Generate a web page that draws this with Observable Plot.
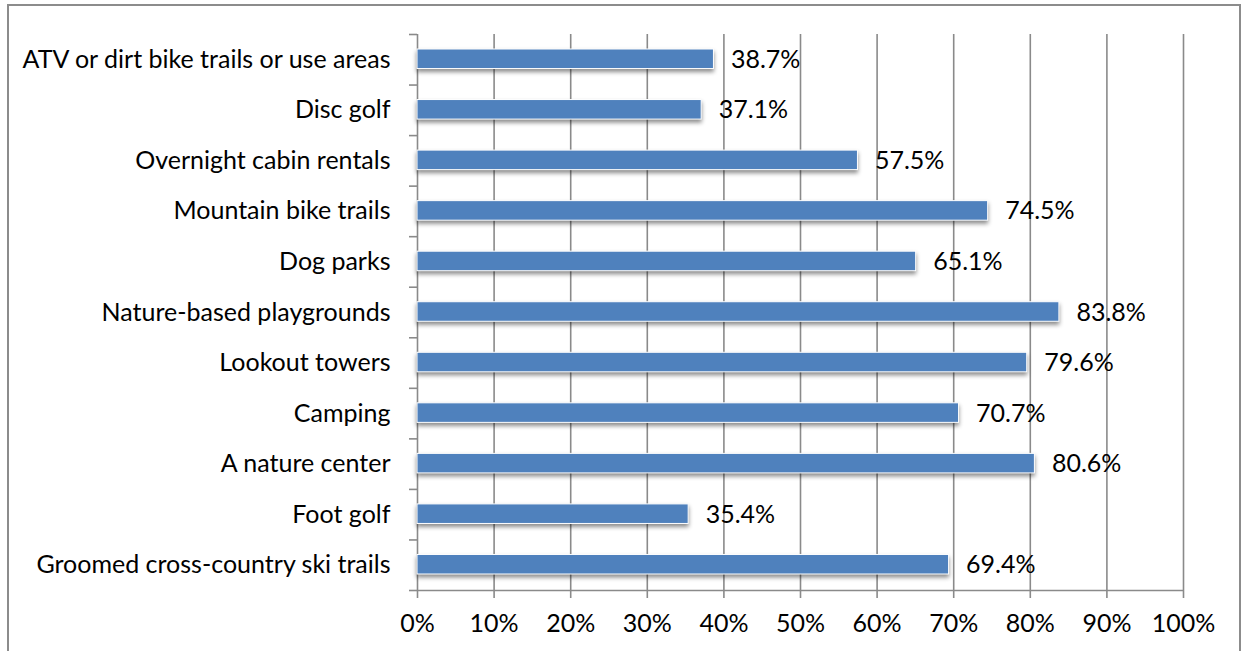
<!DOCTYPE html>
<html>
<head>
<meta charset="utf-8">
<script src="https://cdn.jsdelivr.net/npm/d3@7"></script>
<script src="https://cdn.jsdelivr.net/npm/@observablehq/plot@0.6"></script>
<style>
  html, body { margin: 0; padding: 0; background: #fff; overflow: hidden; }
  #wrap { position: relative; width: 1241px; height: 651px; }
  #frame { position: absolute; left: 7px; top: 4px; width: 1234px; height: 1000px; border: 2px solid #8c8c8c; box-sizing: border-box; }
  #chart { position: absolute; left: 0; top: 0; }
</style>
</head>
<body>
<div id="wrap"><div id="frame"></div><div id="chart"></div></div>
<script>
const categories = [
  "ATV or dirt bike trails or use areas",
  "Disc golf",
  "Overnight cabin rentals",
  "Mountain bike trails",
  "Dog parks",
  "Nature-based playgrounds",
  "Lookout towers",
  "Camping",
  "A nature center",
  "Foot golf",
  "Groomed cross-country ski trails"
];
const values = [38.7, 37.1, 57.5, 74.5, 65.1, 83.8, 79.6, 70.7, 80.6, 35.4, 69.4];
const xTicks = [0, 10, 20, 30, 40, 50, 60, 70, 80, 90, 100];

const data = categories.map((c, i) => ({c, v: values[i], i}));
const n = categories.length;
const gray = "#8a8a8a";
const font = "Lato, 'Open Sans', sans-serif";
const fs = 25;

const chart = Plot.plot({
  width: 1241,
  height: 651,
  marginLeft: 417,
  marginRight: 58,
  marginTop: 34,
  marginBottom: 61,
  style: {fontFamily: font, fontSize: fs + "px", color: "#000", background: "transparent"},
  x: {domain: [0, 100]},
  y: {domain: [n, 0]},
  marks: [
    Plot.ruleX(xTicks, {y1: 0, y2: n, stroke: gray, strokeWidth: 1.6}),
    Plot.ruleY([n], {x1: 0, x2: 100, stroke: gray, strokeWidth: 1.6}),
    Plot.axisX({ticks: xTicks, tickFormat: d => d + "%", tickSize: 8, tickPadding: 16, stroke: gray, strokeWidth: 1.6, fontSize: fs, label: null}),
    Plot.axisY({ticks: d3.range(n + 1), tickFormat: () => "", tickSize: 8, stroke: gray, strokeWidth: 1.6, label: null}),
    Plot.axisY({ticks: data.map(d => d.i + 0.5), tickFormat: t => categories[Math.floor(t)], tickSize: 0, tickPadding: 27, fontSize: fs, label: null}),
    Plot.rectX(data, {x1: 0, x2: "v", y1: d => d.i, y2: d => d.i + 1, insetTop: 15, insetBottom: 16, fill: "#4f81bd", stroke: "#fff", strokeWidth: 1}),
    Plot.text(data, {x: "v", y: d => d.i + 0.5, text: d => d.v.toFixed(1) + "%", textAnchor: "start", dx: 17, fontSize: fs, fill: "#000"})
  ]
});
chart.querySelectorAll('g[aria-label="rect"]').forEach(g => {
  g.style.filter = "drop-shadow(0px 3px 2px rgba(0,0,0,0.45))";
});
document.getElementById("chart").appendChild(chart);
</script>
</body>
</html>
